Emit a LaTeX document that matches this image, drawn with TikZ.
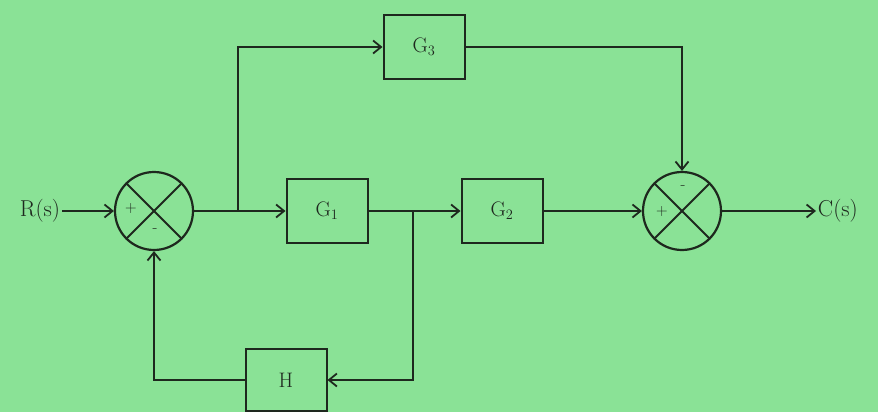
\documentclass[tikz,border=0pt]{standalone}
\usetikzlibrary{arrows.meta}
\definecolor{bg}{RGB}{138,226,150}
\definecolor{ink}{RGB}{30,40,30}
\begin{document}
\begin{tikzpicture}[x=1pt,y=-1pt,
  line width=1.8pt, draw=ink,
  blk/.style={draw=ink, line width=2pt, minimum width=81pt, minimum height=64pt, inner sep=0pt, font=\fontsize{21}{21}\selectfont, text=ink},
  sumj/.style={circle, draw=ink, line width=2.2pt, minimum size=78pt, inner sep=0pt},
  arr/.style={-{Straight Barb[length=8pt,width=13pt,line width=1.8pt]}},
  sgn/.style={font=\fontsize{16}{16}\selectfont, text=ink},
  lbl/.style={font=\fontsize{23}{23}\selectfont, text=ink, inner sep=1pt}]
\fill[bg] (0,0) rectangle (878,412);
\useasboundingbox (0,0) rectangle (878,412);
% blocks
\node[blk] (g3) at (424,47) {G$_3$};
\node[blk] (g1) at (327,211) {G$_1$};
\node[blk] (g2) at (502,211) {G$_2$};
\node[blk, minimum height=62pt] (h) at (286,380) {H};
% summers
\node[sumj] (s1) at (154,211) {};
\node[sumj] (s2) at (682,211) {};
\foreach \s in {s1,s2}{
  \draw[line width=2pt] (\s.45) -- (\s.225);
  \draw[line width=2pt] (\s.135) -- (\s.-45);
}
\node[sgn] at (131,209) {+};
\node[sgn] at (155,231) {-};
\node[sgn] at (662,212) {+};
\node[sgn] at (683,188) {-};
% labels
\node[lbl, anchor=east] (r) at (62,211) {R(s)};
\node[lbl, anchor=west] (c) at (816,211) {C(s)};
% coordinates
\coordinate (b1) at (238,211);
\coordinate (b2) at (413,211);
% connectors
\draw[arr] (r.east) -- (s1.west);
\draw[arr] (s1.east) -- (g1.west);
\draw[arr] (b1) |- (g3.west);
\draw[arr] (g1.east) -- (g2.west);
\draw[arr] (g2.east) -- (s2.west);
\draw[arr] (g3.east) -| (s2.north);
\draw[arr] (s2.east) -- (c.west);
\draw[arr] (b2) |- (h.east);
\draw[arr] (h.west) -| (s1.south);
\end{tikzpicture}
\end{document}
